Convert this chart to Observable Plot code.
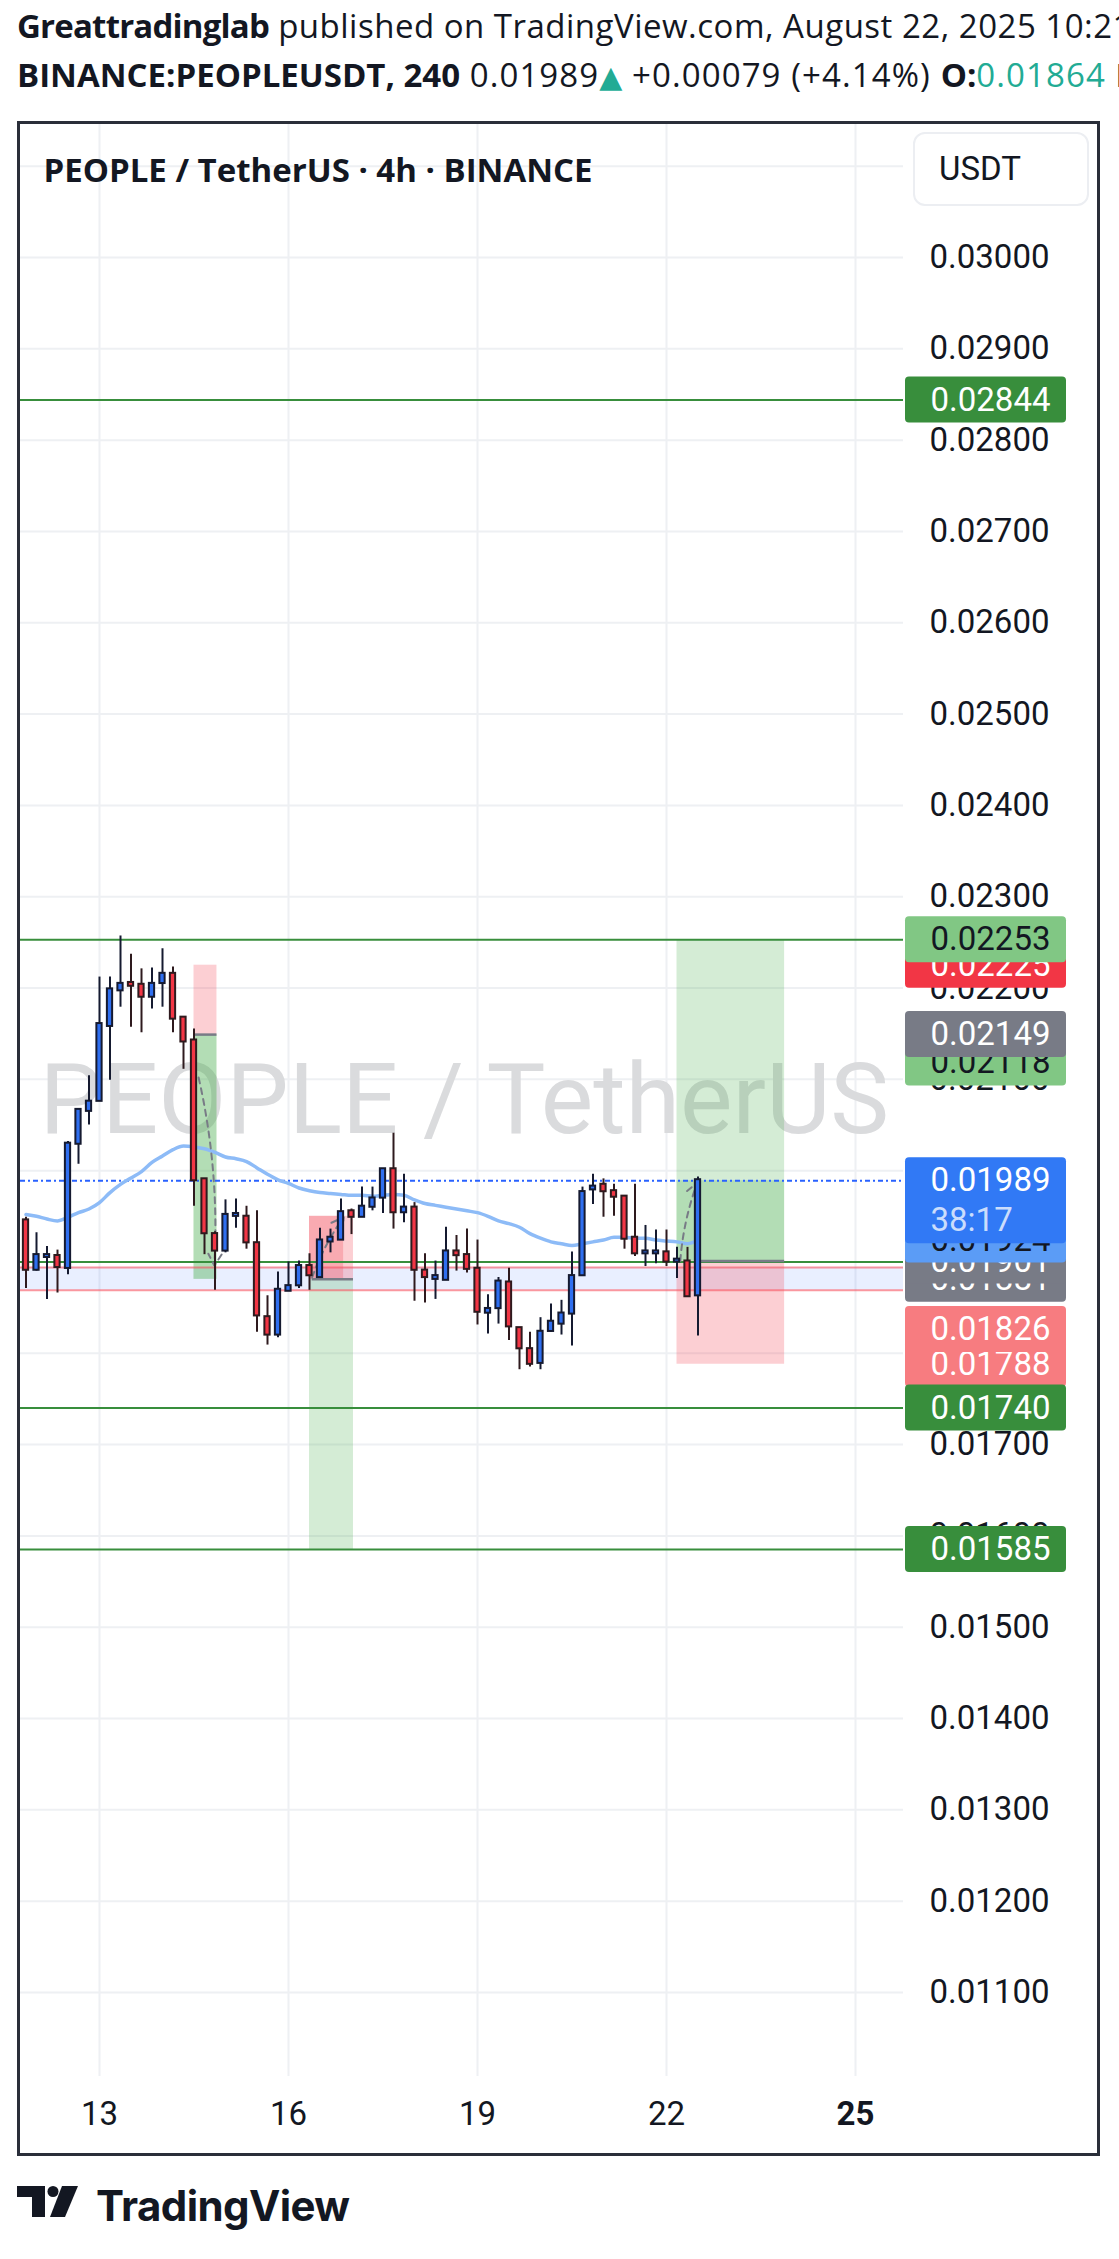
<!DOCTYPE html>
<html>
<head>
<meta charset="utf-8">
<script src="https://cdn.jsdelivr.net/npm/d3@7"></script>
<script src="https://cdn.jsdelivr.net/npm/@observablehq/plot@0.6"></script>
<style>
  html, body { margin: 0; padding: 0; background: #ffffff; }
  body { width: 1119px; height: 2259px; position: relative; overflow: hidden; font-family: "Open Sans", sans-serif; color: #131722; }
  .hdr { position: absolute; left: 17px; right: 0; overflow: hidden; white-space: nowrap; font-size: 33px; line-height: 42px; letter-spacing: 0.5px; }
  .hdr b { letter-spacing: -0.8px; }
  .hdr2 { letter-spacing: 1.1px; }
  .hdr2 b { letter-spacing: 0; }
  .teal { color: #22ab94; }
  .tri { font-family: "DejaVu Sans", sans-serif; font-size: 30px; letter-spacing: 0; }
  #frame { position: absolute; left: 17px; top: 121px; width: 1083px; height: 2035px; border: 3px solid #2a2e39; box-sizing: border-box; overflow: hidden; }
  #chart { position: absolute; left: 0; top: 0; }
  #usdt { position: absolute; left: 893px; top: 8px; width: 176px; height: 74px; box-sizing: border-box; border: 2px solid #eceef2; border-radius: 12px; background: #fff; font-family: Roboto, sans-serif; font-size: 33px; line-height: 70px; padding-left: 24px; color: #131722; }
  #logo { position: absolute; left: 17px; top: 2186px; height: 44px; display: flex; align-items: flex-start; }
  #logo span { font-family: Inter, sans-serif; font-weight: 700; font-size: 42px; line-height: 40px; margin-left: 17px; letter-spacing: -0.6px; color: #131722; }
</style>
</head>
<body>
<div class="hdr" style="top:5px"><b>Greattradinglab</b> published on TradingView.com, August 22, 2025 10:21 UTC</div>
<div class="hdr hdr2" style="top:54px"><b>BINANCE:PEOPLEUSDT, 240</b> 0.01989<span class="teal tri">▲</span> +0.00079 (+4.14%) <b>O:</b><span class="teal">0.01864</span> <b>H:</b><span class="teal">0.01993</span></div>
<div id="frame">
  <div id="chart"></div>
  <div id="usdt">USDT</div>
</div>
<div id="logo">
  <svg width="62" height="32" viewBox="0 0 62 32"><rect x="0" y="0" width="28" height="11" fill="#131722"/><rect x="15" y="0" width="13" height="31" fill="#131722"/><circle cx="36" cy="5.5" r="5.5" fill="#131722"/><path d="M45 0 L61 0 L48 31 L33 31 Z" fill="#131722"/></svg>
  <span>TradingView</span>
</div>
<script>
// ---------- data ----------
const firstCandle = "2025-08-11T20:00Z"; // 4h candles
const open = [
0.01945,0.01892,0.01906,0.01906,0.01894,0.02030,0.02066,0.02077,0.02159,0.02198,
0.02205,0.02203,0.02191,0.02206,0.02215,0.02167,0.02142,0.01990,0.01930,0.01913,
0.01951,0.01949,0.01920,0.01839,0.01821,0.01869,0.01875,0.01895,0.01884,0.01923,
0.01925,0.01955,0.01950,0.01961,0.01971,0.02001,0.01955,0.01959,0.01890,0.01882,
0.01881,0.01911,0.01907,0.01892,0.01845,0.01850,0.01877,0.01827,0.01804,0.01790,
0.01825,0.01833,0.01844,0.01886,0.01980,0.01984,0.01977,0.01971,0.01926,0.01910,
0.01910,0.01910,0.01901,0.01900,0.01864];
const high = [
0.01949,0.01932,0.01917,0.01913,0.02032,0.02067,0.02104,0.02212,0.02212,0.02257,
0.02237,0.02221,0.02222,0.02243,0.02223,0.02168,0.02155,0.01990,0.01933,0.01968,
0.01969,0.01961,0.01956,0.01863,0.01889,0.01900,0.01901,0.01909,0.01937,0.01936,
0.01969,0.01958,0.01982,0.01982,0.02002,0.02041,0.01996,0.01965,0.01909,0.01901,
0.01938,0.01929,0.01936,0.01924,0.01864,0.01883,0.01893,0.01828,0.01823,0.01839,
0.01854,0.01858,0.01911,0.01982,0.01996,0.01991,0.01985,0.01971,0.01985,0.01940,
0.01935,0.01935,0.01916,0.01916,0.01993];
const low = [
0.01871,0.01890,0.01859,0.01866,0.01886,0.02007,0.02050,0.02077,0.02099,0.02179,
0.02157,0.02151,0.02177,0.02179,0.02151,0.02111,0.01961,0.01908,0.01869,0.01910,
0.01937,0.01914,0.01823,0.01809,0.01817,0.01869,0.01871,0.01869,0.01882,0.01910,
0.01925,0.01930,0.01950,0.01956,0.01953,0.01936,0.01943,0.01857,0.01855,0.01859,
0.01880,0.01890,0.01888,0.01831,0.01821,0.01832,0.01814,0.01782,0.01785,0.01782,
0.01823,0.01820,0.01808,0.01886,0.01963,0.01949,0.01950,0.01914,0.01906,0.01895,
0.01898,0.01895,0.01882,0.01863,0.01819];
const close = [
0.01892,0.01907,0.01907,0.01895,0.02029,0.02066,0.02075,0.02160,0.02198,0.02204,
0.02203,0.02191,0.02204,0.02215,0.02167,0.02142,0.01990,0.01932,0.01913,0.01951,
0.01952,0.01922,0.01842,0.01821,0.01869,0.01873,0.01895,0.01886,0.01923,0.01926,
0.01954,0.01950,0.01960,0.01969,0.02001,0.01955,0.01959,0.01892,0.01884,0.01884,
0.01911,0.01908,0.01893,0.01846,0.01848,0.01878,0.01830,0.01806,0.01789,0.01823,
0.01834,0.01843,0.01884,0.01976,0.01982,0.01978,0.01972,0.01926,0.01910,0.01911,
0.01911,0.01901,0.01902,0.01863,0.01989];
const movingAvg = [
0.01952,0.01950,0.01947,0.01945,0.01949,0.01954,0.01958,0.01965,0.01976,0.01985,
0.01992,0.01999,0.02009,0.02016,0.02023,0.02027,0.02026,0.02024,0.02020,0.02015,
0.02013,0.02010,0.02003,0.01996,0.01990,0.01986,0.01981,0.01978,0.01976,0.01975,
0.01974,0.01973,0.01973,0.01972,0.01973,0.01974,0.01973,0.01968,0.01964,0.01962,
0.01960,0.01958,0.01956,0.01954,0.01950,0.01945,0.01942,0.01938,0.01931,0.01926,
0.01922,0.01920,0.01918,0.01920,0.01922,0.01924,0.01927,0.01927,0.01926,0.01926,
0.01924,0.01923,0.01922,0.01920,0.01924];

const yTicks = [0.011,0.012,0.013,0.014,0.015,0.016,0.017,0.018,0.019,0.020,
                0.021,0.022,0.023,0.024,0.025,0.026,0.027,0.028,0.029,0.030,0.031];
const xTickDates = ["2025-08-13T00:00Z","2025-08-16T00:00Z","2025-08-19T00:00Z","2025-08-22T00:00Z","2025-08-25T00:00Z"];
const xTickLabels = ["13","16","19","22","25"];

const levelLines = [0.02844, 0.02253, 0.01900, 0.01740, 0.01585];
const zoneBand = {lo: 0.01869, hi: 0.01894};
const lastPrice = 0.01989;
const countdown = "38:17";

const toolFrom   = ["2025-08-14T12:00Z","2025-08-16T08:00Z","2025-08-22T04:00Z"];
const toolTo     = ["2025-08-14T20:45Z","2025-08-17T00:45Z","2025-08-23T21:00Z"];
const toolEntry  = [0.02149, 0.01881, 0.01901];
const toolStop   = [0.02225, 0.01950, 0.01788];
const toolTarget = [0.01881, 0.01585, 0.02253];
const toolReach  = [0.01881, 0.01950, 0.01989];
const toolReachTo = ["2025-08-14T20:45Z","2025-08-16T21:00Z","2025-08-23T21:00Z"];
const toolEntryFrom = ["2025-08-14T12:00Z","2025-08-16T09:00Z","2025-08-22T12:00Z"];
const pathFromT = ["2025-08-14T13:45Z","2025-08-16T09:00Z","2025-08-22T05:15Z"];
const pathFromP = [0.02102, 0.01883, 0.01901];
const pathToT   = ["2025-08-14T19:45Z","2025-08-16T21:00Z","2025-08-22T11:45Z"];
const pathToP   = [0.01896, 0.01949, 0.01987];

const labelValues = [0.02844, 0.02225, 0.02253, 0.02118, 0.02149, 0.01881, 0.01901, 0.01924, 0.01989, 0.01788, 0.01826, 0.01740, 0.01585];
const labelKinds  = ["level","stop","target","target","entry","entry","entry","ma","last","loss","loss","level","level"];

const titleText = "PEOPLE / TetherUS · 4h · BINANCE";
const watermark = "PEOPLE / TetherUS";

// ---------- build ----------
const HOUR = 3600e3;
const t0 = Date.parse(firstCandle);
const candles = open.map((o, i) => ({
  t: new Date(t0 + i * 4 * HOUR), o, h: high[i], l: low[i], c: close[i], ma: movingAvg[i], up: close[i] >= o
}));
const D = s => new Date(s);

const zones = [];
toolFrom.forEach((f, i) => {
  const long = toolTarget[i] > toolEntry[i];
  zones.push({x1: D(f), x2: D(toolTo[i]), y1: toolEntry[i], y2: toolStop[i], kind: "loss"});
  zones.push({x1: D(f), x2: D(toolTo[i]), y1: toolEntry[i], y2: toolTarget[i], kind: "profit"});
  const reachProfit = long ? toolReach[i] > toolEntry[i] : toolReach[i] < toolEntry[i];
  zones.push({x1: D(f), x2: D(toolReachTo[i]), y1: toolEntry[i], y2: toolReach[i], kind: reachProfit ? "profit" : "loss"});
});
const entryLines = toolEntry.map((v, i) => ({v, x1: D(toolEntryFrom[i]), x2: D(toolTo[i])}));
const paths = pathFromT.map((t, i) => ({x1: D(t), y1: pathFromP[i], x2: D(pathToT[i]), y2: pathToP[i]}));
const xTicks = xTickDates.map((d, i) => ({t: D(d), label: xTickLabels[i], bold: i === xTickDates.length - 1}));

const labelStyle = {
  level:  {bg: "#388e3c", fg: "#ffffff"},
  target: {bg: "#81c784", fg: "#131722"},
  stop:   {bg: "#f23645", fg: "#ffffff"},
  entry:  {bg: "#787b86", fg: "#ffffff"},
  ma:     {bg: "#5b9cf6", fg: "#131722"},
  last:   {bg: "#3179f5", fg: "#ffffff"},
  loss:   {bg: "#f77c80", fg: "#ffffff"}
};

const W = 1077, Hh = 2029;
const yRange = [1868, 133];
const pxPerPrice = (yRange[0] - yRange[1]) / (0.030 - 0.011);
const axisInsetRight = 194;
const boxLeft = 885, boxRight = 31, textX = 910;
const boxHalf = 23, tallBelow = 63;
const upColor = "#2f6ff0", downColor = "#f23645";
const upLine = "#151a30", downLine = "#2e1a1e";

// price ranges covered by the axis label boxes (to skip tick labels fully hidden behind them)
const covered = labelValues.map((v, i) => [v - (labelKinds[i] === "last" ? tallBelow : boxHalf) / pxPerPrice, v + boxHalf / pxPerPrice]);
const isCovered = p => covered.some(([a, b]) => p >= a && p <= b);
const halfText = 12 / pxPerPrice;
const visibleTicks = yTicks.filter(t => !(isCovered(t) && isCovered(t - halfText) && isCovered(t + halfText)) && t < 0.0305);

const marks = [
  Plot.ruleY(yTicks, {stroke: "#eef0f3", strokeWidth: 2, insetRight: axisInsetRight}),
  Plot.ruleX(xTicks, {x: "t", stroke: "#eef0f3", strokeWidth: 2}),
  Plot.text([watermark], {frameAnchor: "top-left", dx: 19, dy: 977, text: d => d, fontSize: 99, fill: "#dadbdd", textAnchor: "start", lineAnchor: "middle"}),
  Plot.rect([zoneBand], {y1: "lo", y2: "hi", fill: "#2962ff", fillOpacity: 0.1, insetRight: axisInsetRight}),
  Plot.rect(zones, {x1: "x1", x2: "x2", y1: "y1", y2: "y2", fill: d => d.kind === "profit" ? "#4caf50" : "#f23645", fillOpacity: 0.24}),
  Plot.ruleY([zoneBand.lo, zoneBand.hi], {stroke: "#f7525f", strokeOpacity: 0.6, strokeWidth: 2, insetRight: axisInsetRight}),
  Plot.ruleY(levelLines, {stroke: "#388e3c", strokeWidth: 2, insetRight: axisInsetRight}),
  Plot.ruleY([lastPrice], {stroke: "#2962ff", strokeWidth: 2, strokeDasharray: "5,3,2,3", insetRight: axisInsetRight}),
  Plot.line(candles, {x: "t", y: "ma", stroke: "#8dbbf7", strokeWidth: 3.5, curve: "monotone-x"}),
  Plot.ruleY(entryLines, {y: "v", x1: "x1", x2: "x2", stroke: "#787b86", strokeWidth: 2.5}),
  Plot.arrow(paths, {x1: "x1", y1: "y1", x2: "x2", y2: "y2", stroke: "#787b86", strokeWidth: 2, strokeDasharray: "6,5", headLength: 10, bend: 8}),
  Plot.ruleX(candles, {x: "t", y1: "l", y2: "h", stroke: d => d.up ? upLine : downLine, strokeWidth: 2}),
  Plot.rect(candles, {
    x1: d => new Date(+d.t - 1.0 * HOUR), x2: d => new Date(+d.t + 1.0 * HOUR),
    y1: "o", y2: "c",
    fill: d => d.up ? upColor : downColor,
    stroke: d => d.up ? upLine : downLine, strokeWidth: 2,
    insetTop: -1, insetBottom: -1
  }),
  Plot.text(visibleTicks, {y: d => d, text: d => d.toFixed(5), frameAnchor: "left", dx: textX - 1, textAnchor: "start", fontSize: 33, fill: "#131722", lineAnchor: "middle"}),
  Plot.text([titleText], {frameAnchor: "top-left", dx: 23, dy: 47, text: d => d, fontFamily: "Open Sans", fontWeight: 700, fontSize: 33, fill: "#131722", textAnchor: "start", lineAnchor: "middle"}),
  Plot.text(xTicks.filter(d => !d.bold), {x: "t", text: "label", frameAnchor: "bottom", dy: 38, fontSize: 33, fill: "#131722", lineAnchor: "middle"}),
  Plot.text(xTicks.filter(d => d.bold), {x: "t", text: "label", frameAnchor: "bottom", dy: 38, fontSize: 33, fontWeight: 700, fill: "#131722", lineAnchor: "middle"})
];

labelValues.forEach((v, i) => {
  const kind = labelKinds[i];
  const st = labelStyle[kind];
  const tall = kind === "last";
  const lab = [{v}];
  marks.push(Plot.rect(lab, {y1: "v", y2: "v", insetLeft: boxLeft, insetRight: boxRight, insetTop: -boxHalf, insetBottom: tall ? -tallBelow : -boxHalf, fill: st.bg, rx: 4}));
  marks.push(Plot.text(lab, {y: "v", text: d => d.v.toFixed(5), frameAnchor: "left", dx: textX, textAnchor: "start", fontSize: 33, fill: st.fg, lineAnchor: "middle"}));
  if (tall) marks.push(Plot.text(lab, {y: "v", text: () => countdown, frameAnchor: "left", dx: textX, dy: 40, textAnchor: "start", fontSize: 33, fill: st.fg, fillOpacity: 0.75, lineAnchor: "middle"}));
});

const chart = Plot.plot({
  width: W, height: Hh,
  marginLeft: 0, marginRight: 0, marginTop: 0, marginBottom: 77,
  x: {type: "utc", domain: [D(xTickDates[0]), D(xTickDates[4])], range: [79, 835], axis: null},
  y: {type: "linear", domain: [0.011, 0.030], range: yRange, axis: null},
  style: {fontFamily: "Roboto, sans-serif", background: "transparent", overflow: "visible"},
  marks
});
document.getElementById("chart").appendChild(chart);
</script>
</body>
</html>
